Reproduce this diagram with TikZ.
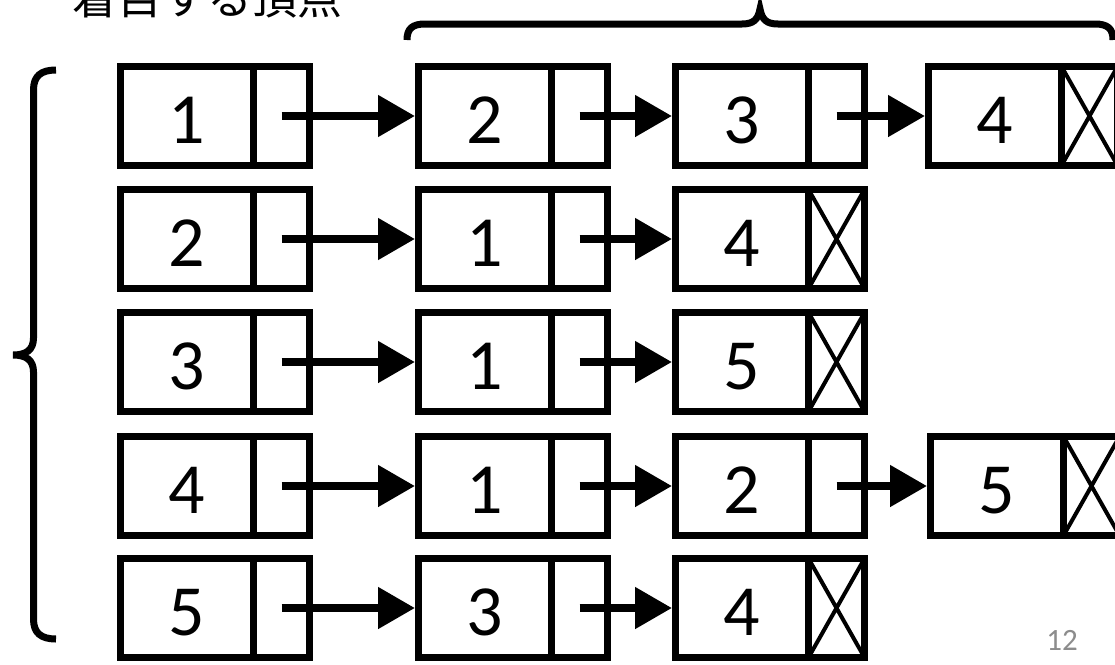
\documentclass[tikz,border=0pt]{standalone}
\usepackage{fontspec}
\newfontfamily\digitfont{Carlito}
\newfontfamily\jpfont{Noto Sans CJK JP}
\usetikzlibrary{arrows.meta}
\definecolor{pagegray}{HTML}{8C8C8C}
\begin{document}
\begin{tikzpicture}[x=1pt,y=-1pt,
  cellbox/.style={draw, line width=7pt, minimum width=133pt, minimum height=99pt,
    inner sep=0pt, outer sep=0pt, font=\digitfont\fontsize{72}{72}\selectfont,
    text height=54pt, text depth=0pt},
  ptrbox/.style={draw, line width=7pt, minimum width=56pt, minimum height=99pt,
    inner sep=0pt, outer sep=0pt, anchor=west},
  link/.style={line width=8pt, shorten >=3.5pt, -{Triangle[length=37pt,width=40pt]}},
  cross/.style={line width=4pt},
  brace/.style={line width=7pt}
]
\useasboundingbox (0,0) rectangle (1115,664);

% title and page number
\node[font=\jpfont\fontsize{45}{45}\selectfont, anchor=base, inner sep=0pt] (title) at (207,14) {着目する頂点};
\node[font=\digitfont\fontsize{31}{31}\selectfont, text=pagegray, inner sep=0pt] (pg) at (1062,640) {12};

% braces
\draw[brace] (56,70) .. controls (41,70) and (33.5,76) .. (33.5,90) -- (33.5,338)
  .. controls (33.5,350) and (26,355) .. (13,355)
  .. controls (26,355) and (33.5,360) .. (33.5,372) -- (33.5,619)
  .. controls (33.5,633) and (41,639) .. (56,639);
\draw[brace] (407,40) .. controls (407,29) and (412,24) .. (425,24) -- (742,24)
  .. controls (753,24) and (758,20) .. (760,9)
  .. controls (762,20) and (767,24) .. (778,24) -- (1095,24)
  .. controls (1108,24) and (1113,29) .. (1113,40);

% row 1: 1 -> 2 -> 3 -> 4
\node[cellbox] (a1) at (187,116) {1};
\node[ptrbox] (pa1) at (a1.east) {};
\node[cellbox] (a2) at (485,116) {2};
\node[ptrbox] (pa2) at (a2.east) {};
\node[cellbox] (a3) at (742,116) {3};
\node[ptrbox] (pa3) at (a3.east) {};
\node[cellbox] (a4) at (995,116) {4};
\node[ptrbox] (pa4) at (a4.east) {};
\draw[cross] (pa4.north west) -- (pa4.south east) (pa4.north east) -- (pa4.south west);
\draw[link] (pa1.center) -- (a2.west);
\draw[link] (pa2.center) -- (a3.west);
\draw[link] (pa3.center) -- (a4.west);

% row 2: 2 -> 1 -> 4
\node[cellbox] (b1) at (187,239) {2};
\node[ptrbox] (pb1) at (b1.east) {};
\node[cellbox] (b2) at (485,239) {1};
\node[ptrbox] (pb2) at (b2.east) {};
\node[cellbox] (b3) at (742,239) {4};
\node[ptrbox] (pb3) at (b3.east) {};
\draw[cross] (pb3.north west) -- (pb3.south east) (pb3.north east) -- (pb3.south west);
\draw[link] (pb1.center) -- (b2.west);
\draw[link] (pb2.center) -- (b3.west);

% row 3: 3 -> 1 -> 5
\node[cellbox] (c1) at (187,362) {3};
\node[ptrbox] (pc1) at (c1.east) {};
\node[cellbox] (c2) at (485,362) {1};
\node[ptrbox] (pc2) at (c2.east) {};
\node[cellbox] (c3) at (742,362) {5};
\node[ptrbox] (pc3) at (c3.east) {};
\draw[cross] (pc3.north west) -- (pc3.south east) (pc3.north east) -- (pc3.south west);
\draw[link] (pc1.center) -- (c2.west);
\draw[link] (pc2.center) -- (c3.west);

% row 4: 4 -> 1 -> 2 -> 5
\node[cellbox] (d1) at (187,486) {4};
\node[ptrbox] (pd1) at (d1.east) {};
\node[cellbox] (d2) at (485,486) {1};
\node[ptrbox] (pd2) at (d2.east) {};
\node[cellbox] (d3) at (742,486) {2};
\node[ptrbox] (pd3) at (d3.east) {};
\node[cellbox] (d4) at (997,486) {5};
\node[ptrbox] (pd4) at (d4.east) {};
\draw[cross] (pd4.north west) -- (pd4.south east) (pd4.north east) -- (pd4.south west);
\draw[link] (pd1.center) -- (d2.west);
\draw[link] (pd2.center) -- (d3.west);
\draw[link] (pd3.center) -- (d4.west);

% row 5: 5 -> 3 -> 4
\node[cellbox] (e1) at (187,608) {5};
\node[ptrbox] (pe1) at (e1.east) {};
\node[cellbox] (e2) at (485,608) {3};
\node[ptrbox] (pe2) at (e2.east) {};
\node[cellbox] (e3) at (742,608) {4};
\node[ptrbox] (pe3) at (e3.east) {};
\draw[cross] (pe3.north west) -- (pe3.south east) (pe3.north east) -- (pe3.south west);
\draw[link] (pe1.center) -- (e2.west);
\draw[link] (pe2.center) -- (e3.west);
\end{tikzpicture}
\end{document}
